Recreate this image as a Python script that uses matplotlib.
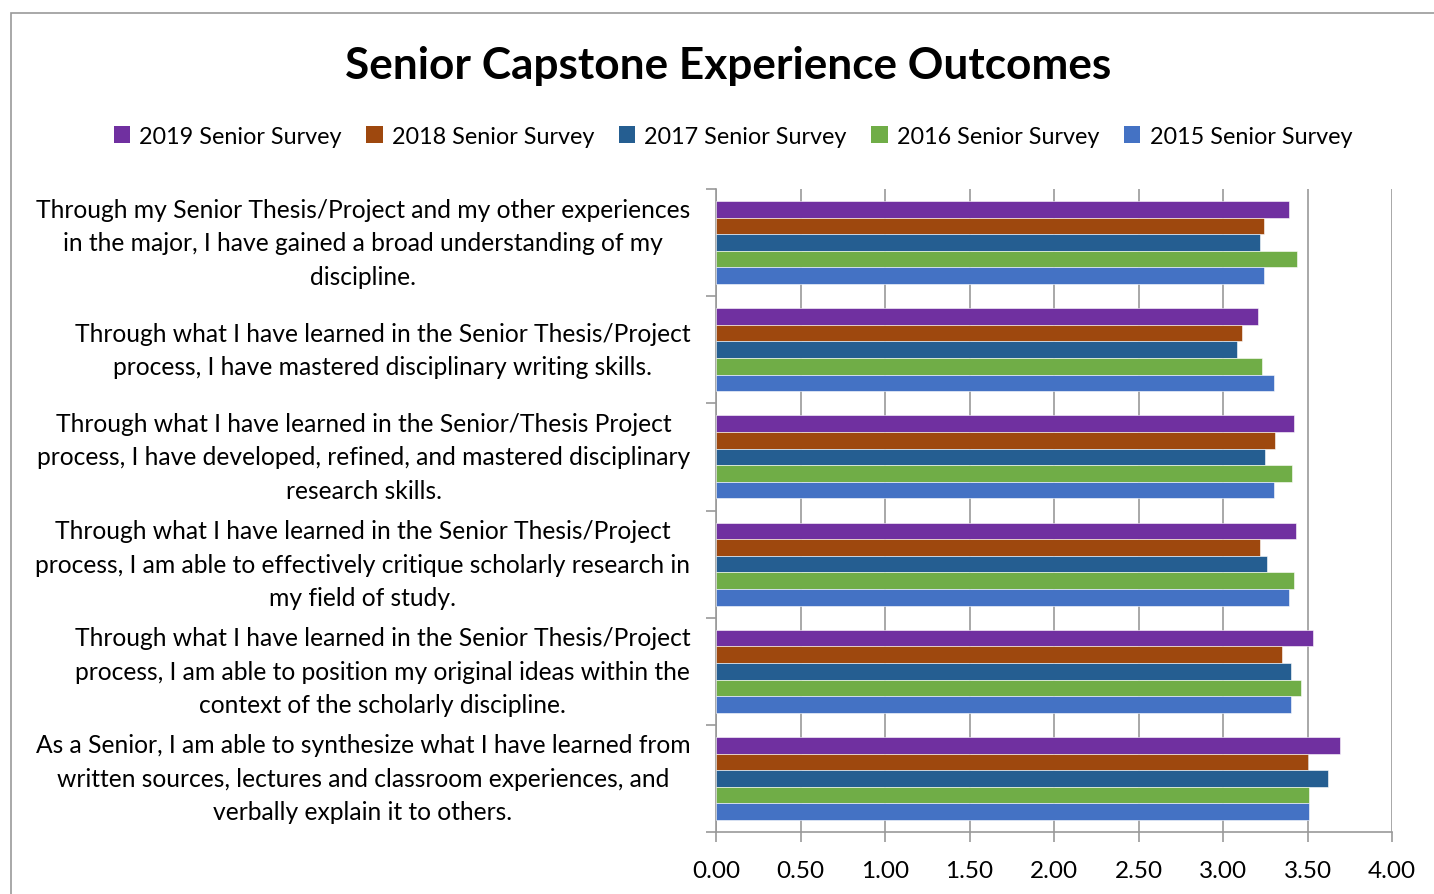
import numpy as np
import matplotlib.pyplot as plt
from matplotlib.patches import Patch, Rectangle

plt.rcParams['font.family'] = ['Lato', 'DejaVu Sans']

categories = [
    'Through my Senior Thesis/Project and my other experiences\nin the major, I have gained a broad understanding of my\ndiscipline.',
    'Through what I have learned in the Senior Thesis/Project\nprocess, I have mastered disciplinary writing skills.',
    'Through what I have learned in the Senior/Thesis Project\nprocess, I have developed, refined, and mastered disciplinary\nresearch skills.',
    'Through what I have learned in the Senior Thesis/Project\nprocess, I am able to effectively critique scholarly research in\nmy field of study.',
    'Through what I have learned in the Senior Thesis/Project\nprocess, I am able to position my original ideas within the\ncontext of the scholarly discipline.',
    'As a Senior, I am able to synthesize what I have learned from\nwritten sources, lectures and classroom experiences, and\nverbally explain it to others.',
]
series = ['2019 Senior Survey', '2018 Senior Survey', '2017 Senior Survey',
          '2016 Senior Survey', '2015 Senior Survey']
s2019 = [3.39, 3.21, 3.42, 3.43, 3.53, 3.69]
s2018 = [3.24, 3.11, 3.31, 3.22, 3.35, 3.50]
s2017 = [3.22, 3.08, 3.25, 3.26, 3.40, 3.62]
s2016 = [3.44, 3.23, 3.41, 3.42, 3.46, 3.51]
s2015 = [3.24, 3.30, 3.30, 3.39, 3.40, 3.51]
colors = ['#7030A0', '#9E480E', '#255E91', '#70AD47', '#4472C4']

W, H = 1434, 895
fig = plt.figure(figsize=(W / 100, H / 100), dpi=100)
fig.patches.append(Rectangle((11 / W, -0.1), 1.2, (H - 14) / H + 0.1,
                             transform=fig.transFigure, fill=False,
                             edgecolor='#999999', linewidth=1.2))

ax = fig.add_axes([716 / W, (H - 833) / H, (1392 - 716) / W, (833 - 190) / H])

data = [s2019, s2018, s2017, s2016, s2015]
y = np.arange(len(categories))
bh = 0.155
for k, (vals, c) in enumerate(zip(data, colors)):
    ax.barh(y - 2 * bh + k * bh, vals, height=bh, color=c,
            edgecolor='white', linewidth=0.4, zorder=3)

ticks = np.arange(0, 4.01, 0.5)
ax.set_xlim(0, 4)
ax.set_ylim(len(categories) - 0.5, -0.5)
ax.set_xticks(ticks)
ax.set_xticklabels([f'{v:.2f}' for v in ticks], fontsize=17.5)
ax.set_yticks(np.arange(-0.5, len(categories)), labels=[])
ax.grid(axis='x', color='#999999', linewidth=1.2, zorder=0)
for s in ['top', 'right']:
    ax.spines[s].set_visible(False)
for s in ['left', 'bottom']:
    ax.spines[s].set_color('#999999')
    ax.spines[s].set_linewidth(1.2)
ax.tick_params(axis='both', color='#999999', width=1.2, length=7)
ax.tick_params(axis='x', pad=13)

for i, lab in enumerate(categories):
    ax.text(-0.038, i, lab, transform=ax.get_yaxis_transform(),
            ha='right', va='center', multialignment='center',
            fontsize=17.7, linespacing=1.55)

fig.text(0.508, 1 - 66 / H, 'Senior Capstone Experience Outcomes',
         ha='center', va='center', fontsize=31.8, fontweight='bold')

handles = [Patch(facecolor=c, edgecolor='none') for c in colors]
fig.legend(handles, series, loc='center', bbox_to_anchor=(0.511, 1 - 137 / H),
           ncol=5, frameon=False, fontsize=16.8, handlelength=0.7,
           handleheight=0.7, handletextpad=0.4, columnspacing=1.05)

fig.savefig('out.png', dpi=100)
